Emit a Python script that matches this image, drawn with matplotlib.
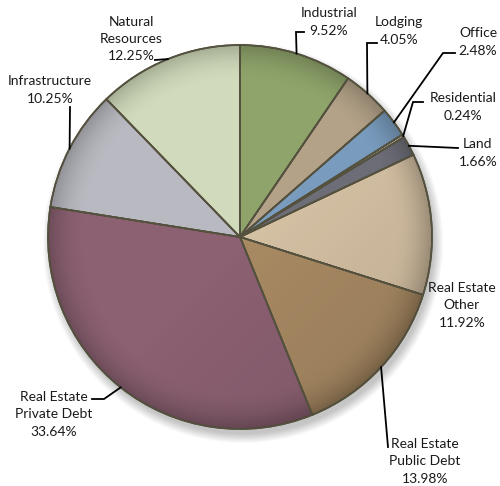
import numpy as np
import matplotlib.pyplot as plt
from matplotlib.patches import Circle, PathPatch

plt.rcParams['font.family'] = ['Lato', 'DejaVu Sans']

# Allocation by sector (percent), clockwise from 12 o'clock
sectors = ['Industrial', 'Lodging', 'Office', 'Residential', 'Land',
           'Real Estate\nOther', 'Real Estate\nPublic Debt', 'Real Estate\nPrivate Debt',
           'Infrastructure', 'Natural\nResources']
shares = [9.52, 4.05, 2.48, 0.24, 1.66, 11.92, 13.98, 33.64, 10.25, 12.25]
colors = ['#8fa46b', '#b3a288', '#7a9dbf', '#dcdcdc', '#6f6f7a',
          '#d4c0a3', '#a88a63', '#8c6172', '#b9b9c1', '#d1dbbb']

# label placement in pixel space (text centre, then leader points after the arc anchor)
label_pos = [(329, 22), (399, 31), (478, 42), (463, 107), (478, 153),
             (462, 305), (425, 461), (54, 414), (50, 90), (131, 39)]
leaders = [[(296, 32), (304, 32)],
           [(367, 43), (377, 43)],
           [(443, 53), (455, 53)],
           [(413, 102), (423, 102)],
           [(458, 148)],
           None,
           [(388, 447)],
           [(104, 399), (92, 399)],
           [(70, 107)],
           [(155, 60)]]

cx, cy, r = 240, 237, 192

fig = plt.figure(figsize=(5.0, 4.86), dpi=100)
ax = fig.add_axes([0, 0, 1, 1])

# soft drop shadow
for k in range(10):
    ax.add_patch(Circle((cx + 3, cy + 6), r + 8 - k, color='black',
                        alpha=0.025, lw=0, zorder=0))

wedges, _ = ax.pie(shares, colors=colors, startangle=-90, counterclock=True,
                   center=(cx, cy), radius=r,
                   wedgeprops=dict(edgecolor='#55513f', linewidth=1.2))
for w in wedges:
    w.set_zorder(2)

# shading towards the rim and to the lower right
n = 400
xs = np.linspace(cx - r, cx + r, n)
ys = np.linspace(cy - r, cy + r, n)
X, Y = np.meshgrid(xs, ys)
d = np.hypot(X - cx, Y - cy) / r
rim = np.clip((d - 0.8) / 0.2, 0, 1) ** 2 * 0.22
tilt = np.clip(((X - cx) + (Y - cy)) / (2 * r), 0, 1) * 0.12
shade = np.zeros((n, n, 4))
shade[..., 3] = np.clip(rim + tilt, 0, 0.35)
im = ax.imshow(shade, extent=(cx - r, cx + r, cy + r, cy - r), zorder=3,
               interpolation='bilinear')
im.set_clip_path(Circle((cx, cy), r, transform=ax.transData))

# redraw wedge outlines on top of the shading
for w in wedges:
    ax.add_patch(PathPatch(w.get_path(), fill=False, edgecolor='#55513f',
                           linewidth=1.2, zorder=4))

for w, name, share, pos, lead in zip(wedges, sectors, shares, label_pos, leaders):
    ax.text(pos[0], pos[1], f'{name}\n{share:.2f}%', ha='center', va='center',
            fontsize=10, color='#1a1a1a', linespacing=1.55, zorder=6)
    if lead is None:
        continue
    mid = np.deg2rad((w.theta1 + w.theta2) / 2)
    pts = [(cx + r * np.cos(mid), cy + r * np.sin(mid))] + lead
    ax.plot([p[0] for p in pts], [p[1] for p in pts], color='black', lw=1.3,
            zorder=5, solid_joinstyle='miter')

ax.set_xlim(0, 500)
ax.set_ylim(486, 0)
ax.axis('off')

plt.savefig('out.png', dpi=100)
